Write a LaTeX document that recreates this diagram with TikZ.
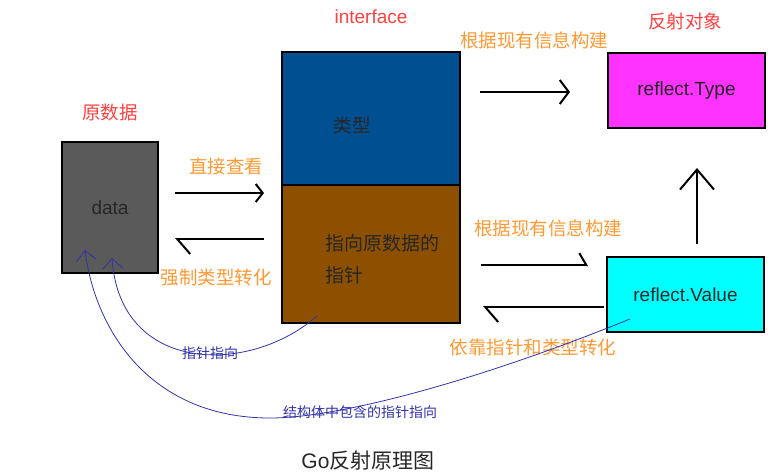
\documentclass[tikz,border=0pt]{standalone}
\usepackage{fontspec}
\setmainfont{Liberation Sans}
\newfontfamily\cjk{Noto Sans CJK SC}
\usetikzlibrary{arrows.meta}
\definecolor{titlered}{RGB}{255,64,64}
\definecolor{steporange}{RGB}{255,153,51}
\definecolor{datagray}{RGB}{90,90,90}
\definecolor{typeblue}{RGB}{0,80,145}
\definecolor{ptrbrown}{RGB}{140,80,0}
\definecolor{typemagenta}{RGB}{255,51,255}
\definecolor{valuecyan}{RGB}{0,255,255}
\definecolor{pointblue}{RGB}{51,51,170}
\begin{document}
\begin{tikzpicture}[x=1pt, y=-1pt,
   box/.style={draw, line width=2pt, inner sep=0pt, text=black!85,
               font=\fontsize{19}{22}\selectfont},
   title/.style={text=titlered, font=\cjk\fontsize{18.5}{22}\selectfont},
   steplabel/.style={text=steporange, font=\cjk\fontsize{18.5}{22}\selectfont},
   pointlabel/.style={text=pointblue, font=\cjk\fontsize{14}{16}\selectfont},
   fwd/.style={line width=2pt, -{Straight Barb[length=7pt, width=18pt]}},
   back/.style={line width=2pt, -{Straight Barb[harpoon, length=13pt, width=30pt]}},
   pointer/.style={draw=pointblue, line width=0.8pt,
                   -{Straight Barb[length=10pt, width=20pt]}}]

\useasboundingbox (0,0) rectangle (777,475);

\node[box, fill=datagray, minimum width=96, minimum height=131] (data) at (110,207.5) {data};
\node[box, fill=typeblue, minimum width=178, minimum height=133] (typ) at (371,118.5) {};
\node[box, fill=ptrbrown, minimum width=178, minimum height=138] (ptr) at (371,254) {};
\node[box, fill=typemagenta, minimum width=157, minimum height=75] (rtype) at (686.5,90.5) {reflect.Type};
\node[box, fill=valuecyan, minimum width=157, minimum height=75] (rvalue) at (685.5,294.5) {reflect.Value};

\node[box, draw=none, font=\cjk\fontsize{18.5}{22}\selectfont] (typtext) at (352,125) {类型};
\node[box, draw=none, align=left, font=\cjk\fontsize{19}{32}\selectfont] (ptrtext) at (382,259) {指向原数据的\\指针};

\node[title] (datatitle) at (110,112) {原数据};
\node[title, font=\fontsize{19}{22}\selectfont] (ifacetitle) at (371,17) {interface};
\node[title] (reftitle) at (685,21) {反射对象};

\node[steplabel] (look) at (226,166) {直接查看};
\node[steplabel] (cast) at (216,278) {强制类型转化};
\node[steplabel] (buildtype) at (534,40) {根据现有信息构建};
\node[steplabel] (buildvalue) at (548,228) {根据现有信息构建};
\node[steplabel] (convert) at (533,347) {依靠指针和类型转化};

\draw[fwd] ([shift={(16,-14.5)}]data.east) -- ([shift={(-17,-61)}]ptr.west);
\draw[back] ([shift={(-17,-15)}]ptr.west) -- ([shift={(16,31.5)}]data.east);
\draw[fwd, -{Straight Barb[length=9pt, width=24pt]}] ([shift={(19,-26.5)}]typ.east) -- ([shift={(-37,1.5)}]rtype.west);
\draw[fwd, -{Straight Barb[harpoon, length=7pt, width=24pt]}] ([shift={(20,11)}]ptr.east) -- ([shift={(-18,-29.5)}]rvalue.west);
\draw[back] ([shift={(-2,12.5)}]rvalue.west) -- ([shift={(22,53)}]ptr.east);
\draw[fwd, -{Straight Barb[length=20pt, width=34pt]}] ([shift={(11.5,-12)}]rvalue.north) -- ([shift={(10.5,39)}]rtype.south);

\coordinate (ptrend) at ([shift={(-54,-8)}]ptr.south);
\coordinate (valueend) at ([shift={(-55.5,-14)}]rvalue.south);
\draw[pointer] (ptrend) .. controls (250,375) and (120,375) .. ([shift={(2,-16)}]data.south);
\draw[pointer] (valueend) .. controls (480,380) and (340,418) .. (270,418)
   .. controls (150,418) and (95,330) .. ([shift={(-25,-24)}]data.south);
\node[pointlabel] (ptrpoint) at (210,353) {指针指向};
\node[pointlabel] (valuepoint) at (360,412) {结构体中包含的指针指向};

\node[font=\fontsize{21}{24}\selectfont, text=black!85] (caption) at (368,461) {Go{\cjk 反射原理图}};

\end{tikzpicture}
\end{document}
